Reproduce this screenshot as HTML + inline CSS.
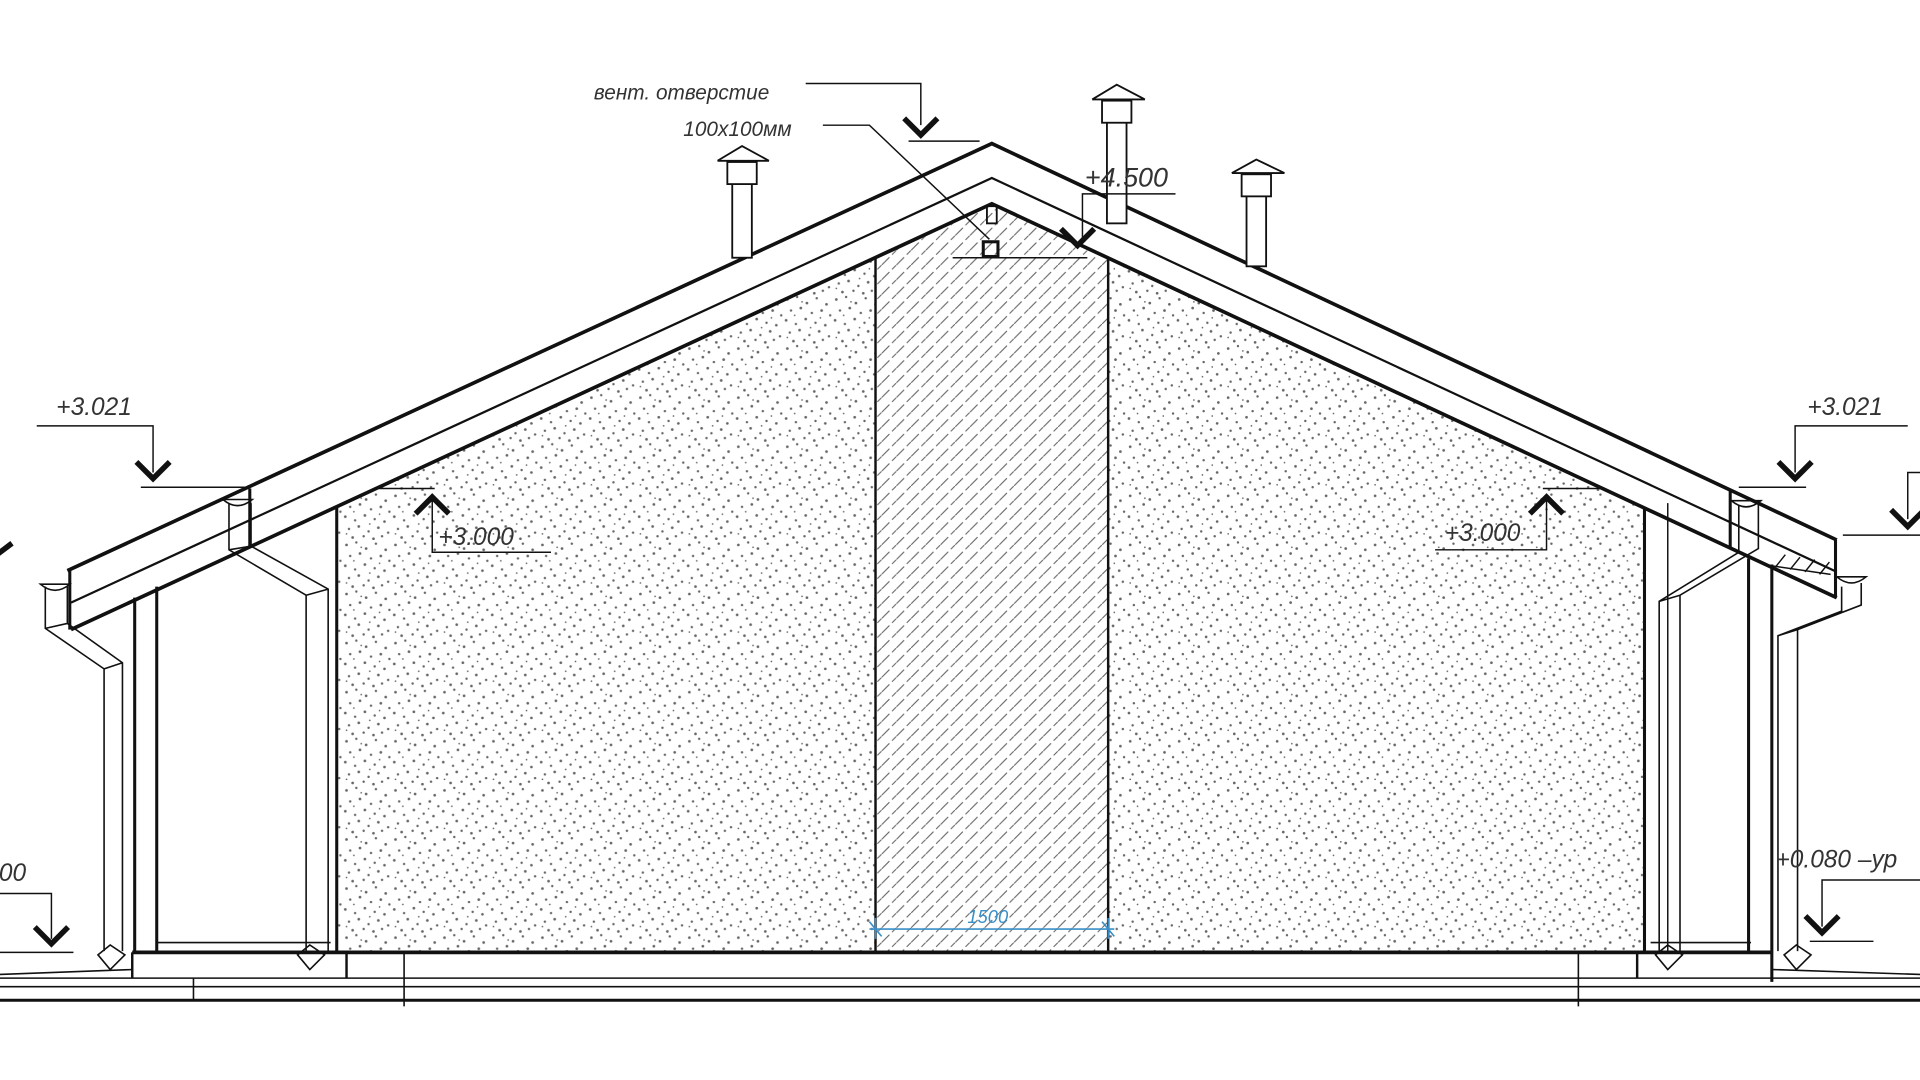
<!DOCTYPE html>
<html><head><meta charset="utf-8"><style>
html,body{margin:0;padding:0;background:#fff;width:1920px;height:1080px;overflow:hidden}
svg{display:block}
text{font-family:"Liberation Sans",sans-serif;font-style:italic;fill:#333}
</style></head><body>
<svg width="1920" height="1080" viewBox="0 0 1568 880" preserveAspectRatio="none">
<defs>
<pattern id="dots" width="40" height="40" patternUnits="userSpaceOnUse">
<g fill="#666">
<circle cx="3" cy="4" r="1.1"/><circle cx="11" cy="2" r="1"/><circle cx="19" cy="7" r="1.1"/><circle cx="27" cy="3" r="1"/><circle cx="35" cy="8" r="1.1"/>
<circle cx="6" cy="13" r="1"/><circle cx="14" cy="11" r="1.1"/><circle cx="23" cy="15" r="1"/><circle cx="31" cy="13" r="1.1"/><circle cx="38" cy="17" r="1"/>
<circle cx="2" cy="21" r="1.1"/><circle cx="10" cy="24" r="1"/><circle cx="18" cy="20" r="1.1"/><circle cx="26" cy="23" r="1"/><circle cx="34" cy="25" r="1.1"/>
<circle cx="5" cy="31" r="1"/><circle cx="13" cy="29" r="1.1"/><circle cx="21" cy="33" r="1"/><circle cx="29" cy="30" r="1.1"/><circle cx="37" cy="34" r="1"/>
<circle cx="8" cy="38" r="1.1"/><circle cx="17" cy="37" r="1"/><circle cx="25" cy="39" r="1.1"/><circle cx="32" cy="37" r="1"/>
<circle cx="15" cy="6" r="0.7"/><circle cx="30" cy="19" r="0.7"/><circle cx="9" cy="17" r="0.7"/><circle cx="22" cy="27" r="0.7"/><circle cx="3" cy="35" r="0.7"/>
</g></pattern>
<pattern id="hatch" width="12" height="12" patternUnits="userSpaceOnUse">
<line x1="0" y1="12" x2="12" y2="0" stroke="#666" stroke-width="0.9" stroke-dasharray="9 3"/>
</pattern>
</defs>
<g stroke="#111" fill="none" stroke-width="1.3">
<polygon points="275,413 715,210 715,776 275,776" fill="url(#dots)" stroke="none"/>
<polygon points="715,210 810,166 905,210 905,776 715,776" fill="url(#hatch)" stroke="none"/>
<polygon points="905,210 1343,413 1343,776 905,776" fill="url(#dots)" stroke="none"/>
<line x1="715" y1="210" x2="715" y2="776" stroke-width="2"/>
<line x1="905" y1="210" x2="905" y2="776" stroke-width="2"/>
<line x1="275" y1="413" x2="275" y2="776" stroke-width="2.5"/>
<line x1="1343" y1="413" x2="1343" y2="776" stroke-width="2.5"/>
<polyline points="55,465 810,117 1500,440" stroke-width="3"/>
<polyline points="58,491 810,145 1500,466" stroke-width="1.8"/>
<polyline points="58,513 810,166 1500,487" stroke-width="3"/>
<line x1="57" y1="465" x2="57" y2="513" stroke-width="2.5"/>
<line x1="1499" y1="440" x2="1499" y2="487" stroke-width="2.5"/>
<line x1="204" y1="398" x2="204" y2="445" stroke-width="2.5"/>
<line x1="1413" y1="400" x2="1413" y2="447" stroke-width="2.5"/>
<g stroke-width="1.2"><line x1="1440" y1="460" x2="1495" y2="468"/><line x1="1450" y1="462" x2="1458" y2="452"/><line x1="1462" y1="464" x2="1470" y2="454"/><line x1="1474" y1="466" x2="1482" y2="456"/><line x1="1486" y1="468" x2="1494" y2="458"/></g>
<g stroke-width="1.5" fill="#fff">
<rect x="598" y="132" width="16" height="78"/><rect x="594" y="132" width="24" height="18"/><polyline points="586,131 606,119 628,131"/><line x1="586" y1="131" x2="628" y2="131"/>
<rect x="904" y="82" width="16" height="100"/><rect x="900" y="82" width="24" height="18"/><polyline points="892,81 912,69 935,81"/><line x1="892" y1="81" x2="935" y2="81"/>
<rect x="1018" y="142" width="16" height="75"/><rect x="1014" y="142" width="24" height="18"/><polyline points="1006,141 1026,130 1049,141"/><line x1="1006" y1="141" x2="1049" y2="141"/>
</g>
<line x1="110" y1="487" x2="110" y2="776" stroke-width="2.5"/><line x1="128" y1="478" x2="128" y2="776" stroke-width="2.5"/>
<line x1="1428" y1="455" x2="1428" y2="776" stroke-width="2.5"/><line x1="1447" y1="460" x2="1447" y2="800" stroke-width="2.5"/>
<line x1="1362" y1="410" x2="1362" y2="776" stroke-width="1.2"/>
<path d="M37,478 V512 L85,545 V775 M55,478 V508 L100,540 V775 M37,512 L55,508 M85,545 L100,540"/>
<path d="M187,410 V448 L250,485 V775 M205,410 V445 L268,480 V775 M187,448 L205,445 M250,485 L268,480"/>
<path d="M33,476 q12,10 24,0 z"/><path d="M182,407 q12,10 24,0 z"/>
<path d="M80,778 l10,-8 l12,8 l-12,12 z"/><path d="M243,778 l10,-8 l12,8 l-12,12 z"/>
<path d="M1420,412 V450 L1355,490 V775 M1436,410 V447 L1372,485 V775 M1355,490 L1372,485"/>
<path d="M1504,478 V498 L1452,518 V775 M1520,475 V493 L1468,513 V775 M1452,518 L1468,513"/>
<path d="M1414,408 q12,10 24,0 z"/><path d="M1500,470 q12,10 24,0 z"/>
<path d="M1352,778 l10,-8 l12,8 l-12,12 z"/><path d="M1457,778 l10,-8 l12,8 l-12,12 z"/>
<line x1="108" y1="776" x2="1448" y2="776" stroke-width="3"/>
<line x1="128" y1="768" x2="270" y2="768"/><line x1="1348" y1="768" x2="1430" y2="768"/>
<line x1="0" y1="797" x2="1568" y2="797"/>
<line x1="0" y1="804" x2="1568" y2="804"/>
<line x1="0" y1="815" x2="1568" y2="815" stroke-width="2.5"/>
<line x1="0" y1="794" x2="108" y2="790"/><line x1="1448" y1="790" x2="1568" y2="794"/>
<line x1="108" y1="776" x2="108" y2="797" stroke-width="2"/><line x1="283" y1="776" x2="283" y2="797" stroke-width="2"/>
<line x1="1337" y1="776" x2="1337" y2="797" stroke-width="2"/>
<line x1="158" y1="797" x2="158" y2="815"/><line x1="330" y1="776" x2="330" y2="820"/><line x1="1289" y1="776" x2="1289" y2="820"/>
<g stroke-width="1.2">
<polyline points="658,68 752,68 752,102"/><line x1="742" y1="115" x2="800" y2="115"/>
<polyline points="672,102 710,102 808,195"/>
<polyline points="960,158 884,158 884,198"/><line x1="778" y1="210" x2="888" y2="210"/>
<polyline points="30,347 125,347 125,385"/><line x1="115" y1="397" x2="200" y2="397"/>
<polyline points="1558,347 1466,347 1466,385"/><line x1="1420" y1="397" x2="1475" y2="397"/>
<polyline points="450,450 353,450 353,405"/><line x1="305" y1="398" x2="355" y2="398"/>
<polyline points="1172,448 1263,448 1263,405"/><line x1="1260" y1="398" x2="1310" y2="398"/>
<polyline points="0,728 42,728 42,765"/><line x1="0" y1="776" x2="60" y2="776"/>
<polyline points="1568,717 1488,717 1488,755"/><line x1="1478" y1="767" x2="1530" y2="767"/>
<polyline points="1568,385 1558,385 1558,423"/><line x1="1505" y1="436" x2="1568" y2="436"/>
</g>
<g stroke-width="4.5" stroke-linecap="square">
<polyline points="740,98 752,110 764,98"/><polyline points="868,188 880,200 892,188"/>
<polyline points="113,378 125,390 137,378"/><polyline points="1454,378 1466,390 1478,378"/>
<polyline points="341,417 353,405 365,417"/><polyline points="1251,417 1263,405 1275,417"/>
<polyline points="30,757 42,769 54,757"/><polyline points="1476,748 1488,760 1500,748"/>
<polyline points="1546,417 1558,429 1568,419"/><polyline points="0,450 8,444"/>
</g>
<rect x="803" y="197" width="12" height="12" stroke-width="2.5"/>
<rect x="806" y="168" width="8" height="14" stroke-width="1.5"/>
<g stroke="#3a8fc8" stroke-width="1.3"><line x1="710" y1="757" x2="910" y2="757"/><line x1="710" y1="751" x2="720" y2="763"/><line x1="900" y1="751" x2="910" y2="763"/><line x1="715" y1="748" x2="715" y2="765"/><line x1="905" y1="748" x2="905" y2="765"/></g>
</g>
<g font-size="20">
<text x="485" y="81" font-size="17">вент.  отверстие</text>
<text x="558" y="111" font-size="17">100х100мм</text>
<text x="886" y="152" font-size="22">+4.500</text>
<text x="46" y="338">+3.021</text>
<text x="1476" y="338">+3.021</text>
<text x="358" y="444">+3.000</text>
<text x="1180" y="441">+3.000</text>
<text x="-12" y="718">000</text>
<text x="1450" y="707">+0.080  –ур</text>
<text x="790" y="752" font-size="15" style="fill:#3a8fc8">1500</text>
</g>
</svg>
</body></html>
